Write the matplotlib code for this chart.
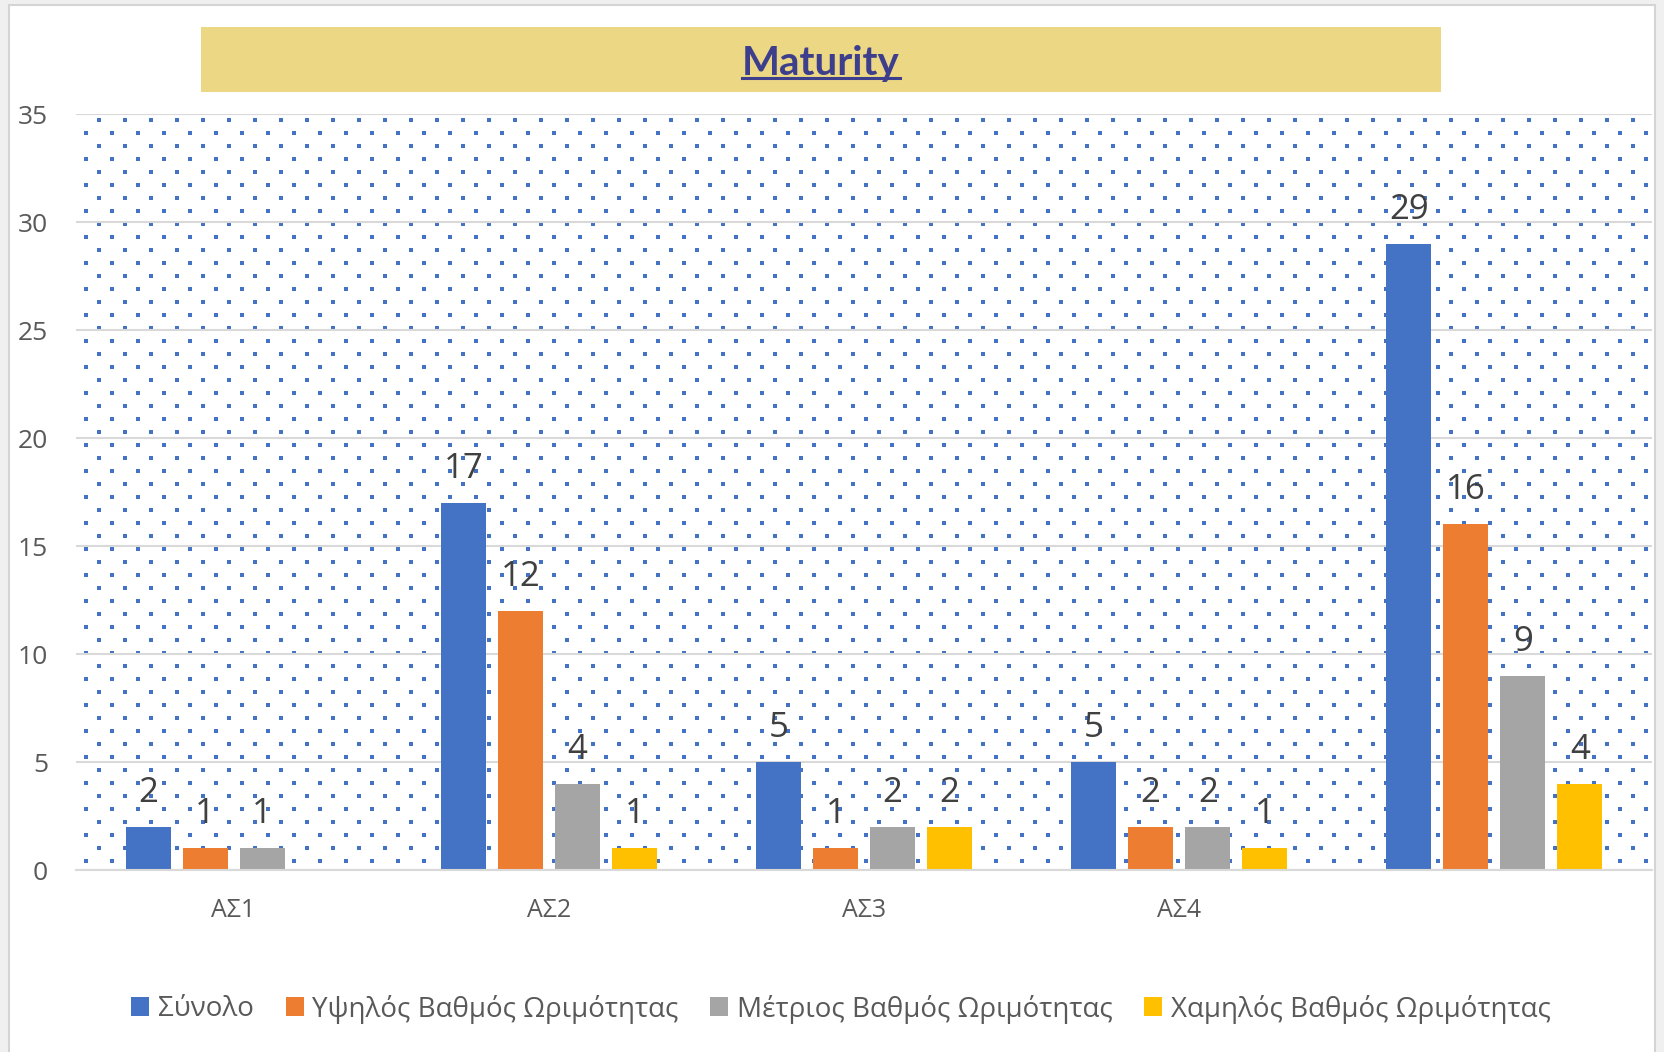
import numpy as np
import matplotlib.pyplot as plt
from matplotlib.patches import Rectangle, Patch
from matplotlib.lines import Line2D

categories = ['ΑΣ1', 'ΑΣ2', 'ΑΣ3', 'ΑΣ4', '']
series_names = ['Σύνολο', 'Υψηλός Βαθμός Ωριμότητας',
                'Μέτριος Βαθμός Ωριμότητας', 'Χαμηλός Βαθμός Ωριμότητας']
synolo = [2, 17, 5, 5, 29]
ypsilos = [1, 12, 1, 2, 16]
metrios = [1, 4, 2, 2, 9]
xamilos = [np.nan, 1, 2, 1, 4]   # ΑΣ1 χωρίς τιμή
colors = ['#4472C4', '#ED7D31', '#A5A5A5', '#FFC000']
yticks = [0, 5, 10, 15, 20, 25, 30, 35]

W, H = 1665, 1052
plt.rcParams['font.family'] = ['Open Sans', 'DejaVu Sans']

fig = plt.figure(figsize=(W / 100, H / 100), dpi=100)
fig.patch.set_facecolor('#F0F0F0')

# chart frame (white area with light border)
fig.add_artist(Rectangle((9 / W, -0.05), (1655 - 9) / W, 1 - 5 / H + 0.05,
                         transform=fig.transFigure, facecolor='white',
                         edgecolor='#D4D4D4', lw=1.5, zorder=0))

ax_l, ax_r, ax_t, ax_b = 76, 1652, 114, 870
ax = fig.add_axes([ax_l / W, 1 - ax_b / H, (ax_r - ax_l) / W, (ax_b - ax_t) / H])
ax.set_facecolor('none')

# dotted background pattern
aw, ah = ax_r - ax_l, ax_b - ax_t
px, py = [], []
for k, yy in enumerate(np.arange(6, ah, 13.0)):
    x0 = 23.3 if k % 2 == 0 else 10.3
    for xx in np.arange(x0, aw - 2, 26.0):
        px.append(xx / aw)
        py.append(1 - yy / ah)
ax.scatter(px, py, s=5.5, marker='s', color='#4472C4', linewidths=0,
           transform=ax.transAxes, zorder=0.2, clip_on=False)

x = np.arange(len(categories))
width = 45 / 315
step = 57 / 315
data = [synolo, ypsilos, metrios, xamilos]
for i, (vals, name, c) in enumerate(zip(data, series_names, colors)):
    pos = x + (i - 1.5) * step
    ax.bar(pos, vals, width, color=c, label=name, zorder=2)
    for p, v in zip(pos, vals):
        if np.isnan(v):
            continue
        ax.annotate(f'{v:g}', (p, v), xytext=(0, 18), textcoords='offset points',
                    ha='center', va='baseline', fontsize=25, color='#404040', zorder=3)

ax.set_xlim(-0.5, len(categories) - 0.5)
ax.set_ylim(0, 35)
ax.set_yticks(yticks)
ax.set_xticks(x)
ax.set_xticklabels(categories)
ax.tick_params(axis='y', length=0, pad=20, labelsize=19, labelcolor='#595959')
ax.tick_params(axis='x', length=0, pad=20, labelsize=18, labelcolor='#595959')
ax.set_axisbelow(True)
ax.yaxis.grid(True, color='#D9D9D9', lw=1.5)
for s in ['top', 'right', 'left']:
    ax.spines[s].set_visible(False)
ax.spines['bottom'].set_color('#D9D9D9')
ax.spines['bottom'].set_linewidth(1.5)

# title band
fig.add_artist(Rectangle((201 / W, 1 - 92 / H), (1441 - 201) / W, 65 / H,
                         transform=fig.transFigure, facecolor='#EBD784',
                         edgecolor='none', zorder=3))
t = fig.text(821 / W, 1 - 75 / H, 'Maturity', ha='center', va='baseline',
             fontsize=29, fontweight='bold', color='#3D3F8C', family=['Lato', 'DejaVu Sans'],
             zorder=4)
fig.canvas.draw()
bb = t.get_window_extent()
fig.add_artist(Line2D([bb.x0 / W, bb.x1 / W], [1 - 78 / H, 1 - 78 / H],
                      transform=fig.transFigure, color='#3D3F8C', lw=2.2, zorder=4))

handles = [Patch(facecolor=c, edgecolor='none') for c in colors]
fig.legend(handles, series_names, loc='center', ncol=4,
           bbox_to_anchor=(841 / W, 1 - 1009 / H), frameon=False,
           fontsize=20, labelcolor='#595959', handlelength=0.65, handleheight=0.65,
           handletextpad=0.3, columnspacing=1.15)

fig.savefig('out.png', dpi=100, facecolor=fig.get_facecolor())
